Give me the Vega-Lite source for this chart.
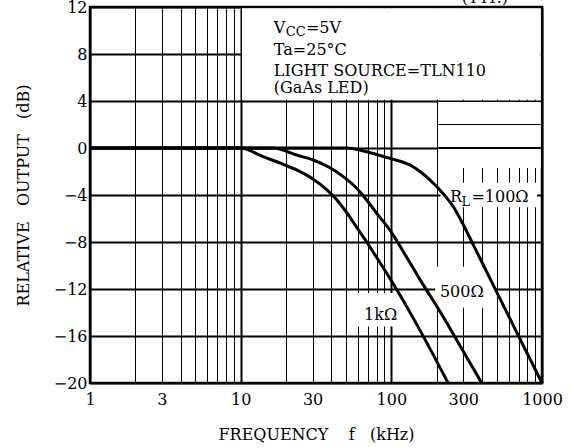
{
  "$schema": "https://vega.github.io/schema/vega-lite/v6.json",
  "autosize": "none",
  "width": 452,
  "height": 376,
  "padding": {"left": 90, "right": 29, "top": 7, "bottom": 65},
  "background": "white",
  "view": {"stroke": "black", "strokeWidth": 2.5},
  "config": {
    "font": "DejaVu Serif",
    "text": {"font": "DejaVu Serif", "color": "black"}
  },
  "datasets": {
    "curves": [
      {"series": "1k", "f": 1, "db": 0}, {"series": "1k", "f": 10, "db": 0}, {"series": "1k", "f": 14.1, "db": -0.74},
      {"series": "1k", "f": 19.2, "db": -1.39}, {"series": "1k", "f": 23.5, "db": -1.87}, {"series": "1k", "f": 30.3, "db": -2.66},
      {"series": "1k", "f": 37.2, "db": -3.55}, {"series": "1k", "f": 43.4, "db": -4.4}, {"series": "1k", "f": 50.6, "db": -5.5},
      {"series": "1k", "f": 58.9, "db": -6.75}, {"series": "1k", "f": 68.6, "db": -8.0}, {"series": "1k", "f": 84, "db": -9.75},
      {"series": "1k", "f": 108.5, "db": -12.05}, {"series": "1k", "f": 140, "db": -14.5}, {"series": "1k", "f": 180, "db": -17.05},
      {"series": "1k", "f": 238, "db": -20},
      {"series": "500", "f": 1, "db": 0}, {"series": "500", "f": 16.4, "db": 0}, {"series": "500", "f": 23.5, "db": -0.6},
      {"series": "500", "f": 30.3, "db": -1.02}, {"series": "500", "f": 39.2, "db": -1.68}, {"series": "500", "f": 48, "db": -2.44},
      {"series": "500", "f": 58.9, "db": -3.43}, {"series": "500", "f": 68.6, "db": -4.43}, {"series": "500", "f": 80, "db": -5.56},
      {"series": "500", "f": 98, "db": -7.0}, {"series": "500", "f": 126.5, "db": -9.3}, {"series": "500", "f": 155, "db": -11.2},
      {"series": "500", "f": 210, "db": -13.9}, {"series": "500", "f": 300, "db": -17.3}, {"series": "500", "f": 398, "db": -20},
      {"series": "100", "f": 1, "db": 0}, {"series": "100", "f": 50, "db": 0}, {"series": "100", "f": 72.2, "db": -0.4},
      {"series": "100", "f": 98, "db": -0.88}, {"series": "100", "f": 133, "db": -1.45}, {"series": "100", "f": 155, "db": -2.0},
      {"series": "100", "f": 190, "db": -3.0}, {"series": "100", "f": 210, "db": -3.57}, {"series": "100", "f": 258, "db": -5.0},
      {"series": "100", "f": 301, "db": -6.55}, {"series": "100", "f": 350, "db": -8.24}, {"series": "100", "f": 408, "db": -9.96},
      {"series": "100", "f": 475, "db": -11.67}, {"series": "100", "f": 583, "db": -13.97}, {"series": "100", "f": 715, "db": -16.26},
      {"series": "100", "f": 832, "db": -17.95}, {"series": "100", "f": 1000, "db": -20}
    ],
    "masks": [
      {"f1": 10.2, "f2": 980, "v1": 4.1, "v2": 11.9},
      {"f1": 205, "f2": 980, "v1": -1.7, "v2": 3.92},
      {"f1": 212, "f2": 926, "v1": -5.05, "v2": -2.95},
      {"f1": 195, "f2": 488, "v1": -13.6, "v2": -10.1},
      {"f1": 59, "f2": 114, "v1": -15.2, "v2": -12.35}
    ],
    "redraw": [
      {"f1": 205, "f2": 980, "v": 2},
      {"f1": 205, "f2": 980, "v": 0}
    ],
    "labels": [
      {"t": "V", "f": 16.6, "v": 9.79},
      {"t": "=5V", "f": 27.1, "v": 9.79},
      {"t": "Ta=25°C", "f": 16.6, "v": 7.92},
      {"t": "LIGHT SOURCE=TLN110", "f": 16.6, "v": 6.13},
      {"t": "(GaAs LED)", "f": 16.6, "v": 4.72},
      {"t": "R", "f": 245, "v": -4.6},
      {"t": "=100Ω", "f": 340, "v": -4.6},
      {"t": "500Ω", "f": 210, "v": -12.68},
      {"t": "1kΩ", "f": 65.9, "v": -14.64}
    ],
    "subs": [
      {"t": "CC", "f": 19.9, "v": 9.53},
      {"t": "L", "f": 292, "v": -4.94}
    ],
    "typ": [
      {"t": "(TYP.)", "f": 418, "v": 12}
    ]
  },
  "layer": [
    {
      "data": {"name": "masks"},
      "mark": {"type": "rect", "fill": "white", "stroke": null},
      "encoding": {
        "x": {
          "field": "f1", "type": "quantitative",
          "scale": {"type": "log", "domain": [1, 1000], "nice": false},
          "axis": {
            "values": [1,2,3,4,5,6,7,8,9,10,20,30,40,50,60,70,80,90,100,200,300,400,500,600,700,800,900,1000],
            "format": "d",
            "labelExpr": "indexof([1,3,10,30,100,300,1000], datum.value) >= 0 ? datum.label : ''",
            "grid": true,
            "gridColor": "black",
            "gridOpacity": 1,
            "gridWidth": {"condition": {"test": "indexof([1,10,100,1000], datum.value) >= 0", "value": 2}, "value": 1},
            "domain": false,
            "ticks": false,
            "labelFont": "DejaVu Serif",
            "labelFontSize": 16,
            "labelColor": "black",
            "labelPadding": 8,
            "labelFlush": false,
            "labelOverlap": false,
            "title": "FREQUENCY\u00a0\u00a0\u00a0\u00a0f\u00a0\u00a0\u00a0(kHz)",
            "titleFont": "DejaVu Serif",
            "titleFontSize": 16,
            "titleFontWeight": "normal",
            "titleColor": "black",
            "titlePadding": 19
          }
        },
        "x2": {"field": "f2"},
        "y": {
          "field": "v1", "type": "quantitative",
          "scale": {"domain": [-20, 12], "nice": false, "zero": false},
          "axis": {
            "values": [-20,-18,-16,-14,-12,-10,-8,-6,-4,-2,0,2,4,6,8,10,12],
            "labelExpr": "datum.value % 4 === 0 ? (datum.value < 0 ? '−' + (-datum.value) : '' + datum.value) : ''",
            "grid": true,
            "gridColor": "black",
            "gridOpacity": 1,
            "gridWidth": {"condition": {"test": "datum.value % 4 === 0", "value": 2}, "value": 1},
            "domain": false,
            "ticks": false,
            "labelFont": "DejaVu Serif",
            "labelFontSize": 16,
            "labelColor": "black",
            "labelPadding": 3,
            "labelFlush": false,
            "labelOverlap": false,
            "title": "RELATIVE\u00a0\u00a0\u00a0OUTPUT\u00a0\u00a0\u00a0(dB)",
            "titleFont": "DejaVu Serif",
            "titleFontSize": 16,
            "titleFontWeight": "normal",
            "titleColor": "black",
            "titlePadding": 22
          }
        },
        "y2": {"field": "v2"}
      }
    },
    {
      "data": {"name": "redraw"},
      "mark": {"type": "rule", "color": "black"},
      "encoding": {
        "x": {"field": "f1", "type": "quantitative"},
        "x2": {"field": "f2"},
        "y": {"field": "v", "type": "quantitative"},
        "strokeWidth": {"condition": {"test": "datum.v === 0", "value": 2}, "value": 1}
      }
    },
    {
      "data": {"name": "curves"},
      "mark": {"type": "line", "color": "black", "strokeWidth": 3, "interpolate": "monotone"},
      "encoding": {
        "x": {"field": "f", "type": "quantitative"},
        "y": {"field": "db", "type": "quantitative"},
        "detail": {"field": "series"}
      }
    },
    {
      "data": {"name": "labels"},
      "mark": {"type": "text", "align": "left", "baseline": "alphabetic", "fontSize": 16, "color": "black"},
      "encoding": {
        "x": {"field": "f", "type": "quantitative"},
        "y": {"field": "v", "type": "quantitative"},
        "text": {"field": "t"}
      }
    },
    {
      "data": {"name": "subs"},
      "mark": {"type": "text", "align": "left", "baseline": "alphabetic", "fontSize": 13, "color": "black"},
      "encoding": {
        "x": {"field": "f", "type": "quantitative"},
        "y": {"field": "v", "type": "quantitative"},
        "text": {"field": "t"}
      }
    },
    {
      "data": {"name": "typ"},
      "mark": {"type": "text", "align": "center", "baseline": "alphabetic", "dy": -4, "fontSize": 16, "color": "black"},
      "encoding": {
        "x": {"field": "f", "type": "quantitative"},
        "y": {"field": "v", "type": "quantitative"},
        "text": {"field": "t"}
      }
    }
  ]
}
